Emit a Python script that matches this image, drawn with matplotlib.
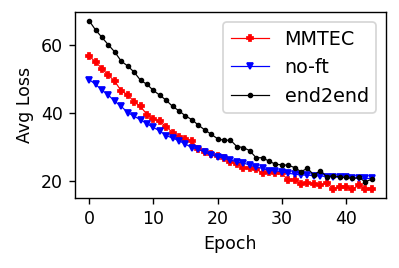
import matplotlib
matplotlib.use("Agg")
import matplotlib.pyplot as plt

# Avg loss per epoch for each training setup
epochs = list(range(45))
mmtec = [56.7, 55.0, 53.0, 51.1, 49.3, 46.4, 45.4, 43.2, 41.9, 39.5,
         38.2, 37.5, 35.9, 34.2, 32.9, 32.4, 31.7, 29.4, 28.6, 27.8,
         27.4, 26.6, 25.6, 24.9, 23.9, 23.7, 23.5, 22.2, 22.5, 22.2,
         22.2, 20.2, 20.2, 19.0, 19.4, 19.2, 18.7, 19.4, 17.7, 18.2,
         18.2, 17.5, 18.7, 17.6, 17.6]
no_ft = [49.8, 48.4, 46.7, 45.2, 43.4, 41.9, 40.1, 39.0, 38.0, 36.8,
         35.7, 34.7, 33.3, 32.6, 31.8, 30.8, 29.8, 29.3, 28.4, 27.6,
         27.1, 26.6, 26.1, 25.6, 25.2, 24.7, 24.0, 23.7, 23.0, 23.0,
         22.7, 22.2, 22.0, 21.7, 21.7, 21.5, 21.5, 21.2, 21.2, 21.0,
         21.0, 20.9, 20.7, 20.7, 20.7]
end2end = [67.1, 64.4, 62.2, 60.0, 57.9, 55.2, 53.8, 52.0, 49.6, 48.4,
           46.6, 45.2, 43.7, 41.9, 40.6, 39.1, 38.0, 36.4, 35.0, 33.7,
           32.4, 31.9, 32.0, 30.1, 29.8, 28.9, 26.8, 26.8, 25.8, 24.9,
           24.7, 24.6, 23.9, 22.7, 23.7, 21.7, 23.0, 21.2, 21.5, 21.2,
           21.0, 20.7, 21.0, 19.7, 20.5]

DPI = 125
fig = plt.figure(figsize=(399 / DPI, 268 / DPI), dpi=DPI)
ax = fig.add_axes([0.188, 0.262, 0.779, 0.692])

ax.plot(epochs, mmtec, color="red", marker="P", markersize=3.2, linewidth=0.7, label="MMTEC")
ax.plot(epochs, no_ft, color="blue", marker="v", markersize=3.2, linewidth=0.7, label="no-ft")
ax.plot(epochs, end2end, color="black", marker="o", markersize=2.2, linewidth=0.7, label="end2end")

ax.set_xlabel("Epoch")
ax.set_ylabel("Avg Loss")
ax.set_xticks([0, 10, 20, 30, 40])
ax.set_yticks([20, 40, 60])
ax.legend(loc="upper right", fontsize=11)

fig.savefig("out.png", dpi=DPI)
